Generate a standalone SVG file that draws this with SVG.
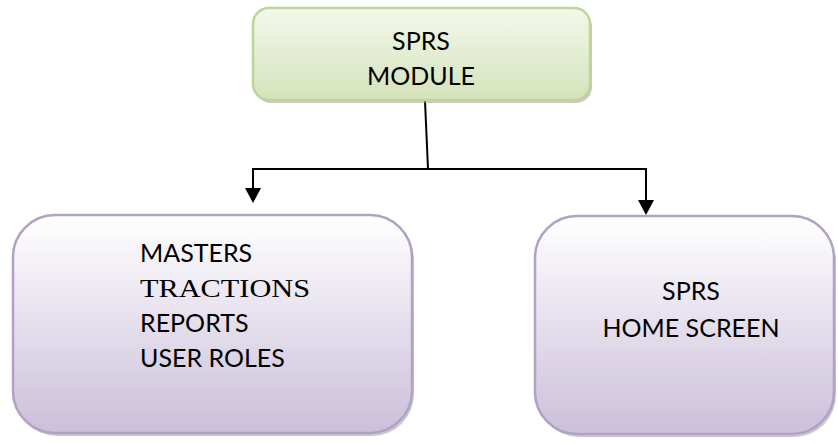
<svg xmlns="http://www.w3.org/2000/svg" width="838" height="443" viewBox="0 0 838 443">
  <defs>
    <linearGradient id="gGreen" x1="0" y1="0" x2="0" y2="1">
      <stop offset="0" stop-color="#f3f8ea"/>
      <stop offset="1" stop-color="#d5e3bb"/>
    </linearGradient>
    <linearGradient id="gPurple" x1="0" y1="0" x2="0" y2="1">
      <stop offset="0" stop-color="#ffffff"/>
      <stop offset="1" stop-color="#cbbfda"/>
    </linearGradient>
  </defs>
  <style>
    .shadow { fill: #9a9a9a; opacity: 0.55; }
    .green { fill: url(#gGreen); stroke: #c0d49a; stroke-width: 2.5; }
    .purple { fill: url(#gPurple); stroke: #b2a1c6; stroke-width: 2.5; }
    .t { font-family: Lato, "Open Sans", sans-serif; font-size: 25px; fill: #000; }
    .ts { font-family: "Liberation Serif", serif; font-size: 26px; fill: #000; }
    .conn { stroke: #000; stroke-width: 2; fill: none; }
  </style>

  <g id="connectors">
    <line class="conn" x1="425" y1="101" x2="428" y2="169"/>
    <polyline class="conn" points="253,190 253,169 646,169 646,202" />
    <path d="M245,188 L261,188 L253,203 Z" fill="#000"/>
    <path d="M638,200 L654,200 L646,215 Z" fill="#000"/>
  </g>

  <g id="node-sprs-module">
    <rect class="shadow" x="255" y="11" width="337" height="92" rx="16"/>
    <rect class="green" x="253" y="8" width="337" height="92" rx="16"/>
    <text class="t" x="421" y="50" text-anchor="middle">SPRS</text>
    <text class="t" x="421" y="85" text-anchor="middle">MODULE</text>
  </g>

  <g id="node-masters">
    <rect class="shadow" x="15" y="218" width="399" height="218" rx="42"/>
    <rect class="purple" x="13" y="215" width="399" height="218" rx="42"/>
    <text class="t" x="140" y="262">MASTERS</text>
    <text class="ts" x="140" y="297" textLength="170" lengthAdjust="spacingAndGlyphs">TRACTIONS</text>
    <text class="t" x="140" y="332">REPORTS</text>
    <text class="t" x="140" y="367">USER ROLES</text>
  </g>

  <g id="node-home">
    <rect class="shadow" x="537" y="219" width="299" height="218" rx="42"/>
    <rect class="purple" x="535" y="216" width="299" height="218" rx="42"/>
    <text class="t" x="691" y="300" text-anchor="middle">SPRS</text>
    <text class="t" x="691" y="337" text-anchor="middle">HOME SCREEN</text>
  </g>
</svg>
